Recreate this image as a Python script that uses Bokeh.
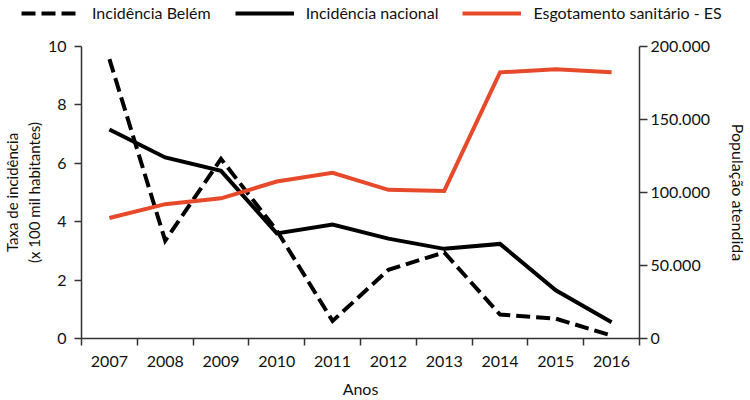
from bokeh.plotting import figure
from bokeh.layouts import column
from bokeh.models import Range1d, LinearAxis, FixedTicker, Legend, LegendItem
from bokeh.embed import file_html
from bokeh.resources import INLINE

years = [2007, 2008, 2009, 2010, 2011, 2012, 2013, 2014, 2015, 2016]
incidencia_belem = [9.57, 3.35, 6.15, 3.7, 0.6, 2.35, 2.95, 0.82, 0.68, 0.1]
incidencia_nacional = [7.16, 6.2, 5.74, 3.6, 3.9, 3.42, 3.07, 3.24, 1.65, 0.56]
esgotamento = [82500, 92000, 96000, 107500, 113500, 101800, 101100, 182300, 184400, 182300]

left_ticks = [0, 2, 4, 6, 8, 10]
right_ticks = [0, 50000, 100000, 150000, 200000]
right_tick_labels = ["0", "50.000", "100.000", "150.000", "200.000"]
year_labels = [str(y) for y in years]
series_names = ["Incidência Belém", "Incidência nacional", "Esgotamento sanitário - ES"]

FONT = "Lato"
AXIS_COLOR = "#333333"
RED = "#E64A2B"
DASH = "14 6"
LEG_H = 26

# ---------------- main chart ----------------
p = figure(width=750, height=400 - LEG_H, output_backend="svg", toolbar_location=None,
           x_range=Range1d(years[0] - 0.5, years[-1] + 0.5),
           y_range=Range1d(0, 10),
           min_border_left=80, min_border_right=109, min_border_top=46 - LEG_H,
           min_border_bottom=60)
p.frame_align = False
p.extra_y_ranges = {"pop": Range1d(0, 200000)}
p.outline_line_color = None
p.grid.visible = False
p.background_fill_color = "white"
p.border_fill_color = "white"

p.line(years, incidencia_belem, line_color="black", line_width=4,
       line_dash=DASH, line_join="miter")
p.line(years, incidencia_nacional, line_color="black", line_width=4, line_join="miter")
p.line(years, esgotamento, line_color=RED, line_width=4, line_join="miter",
       y_range_name="pop")

# x axis
xa = p.xaxis[0]
xa.ticker = FixedTicker(ticks=years, minor_ticks=[y - 0.5 for y in years] + [years[-1] + 0.5])
xa.major_label_overrides = {y: s for y, s in zip(years, year_labels)}
xa.major_tick_out = 0
xa.major_tick_in = 0
xa.minor_tick_out = 7
xa.minor_tick_in = 0
xa.major_label_standoff = 10
xa.axis_label = "Anos"
xa.axis_label_standoff = 9

# left axis
ya = p.yaxis[0]
ya.ticker = FixedTicker(ticks=left_ticks)
ya.major_tick_out = 7
ya.major_tick_in = 0
ya.minor_tick_out = 0
ya.minor_tick_in = 0
ya.major_label_standoff = 8
ya.axis_label = "Taxa de incidência\n(x 100 mil habitantes)"
ya.axis_label_standoff = 2

# right axis
ra = LinearAxis(y_range_name="pop", ticker=FixedTicker(ticks=right_ticks))
ra.major_label_overrides = {t: s for t, s in zip(right_ticks, right_tick_labels)}
ra.major_tick_out = 8
ra.major_tick_in = 0
ra.minor_tick_out = 0
ra.minor_tick_in = 0
ra.major_label_standoff = 3
ra.axis_label = "População atendida"
ra.axis_label_standoff = 16
p.add_layout(ra, "right")

for ax in [xa, ya, ra]:
    ax.axis_line_color = AXIS_COLOR
    ax.axis_line_width = 1.5
    ax.major_tick_line_color = AXIS_COLOR
    ax.major_tick_line_width = 1.5
    ax.minor_tick_line_color = AXIS_COLOR
    ax.minor_tick_line_width = 1.5
    ax.major_label_text_font = FONT
    ax.major_label_text_font_size = "16px"
    ax.major_label_text_color = "#111111"
    ax.axis_label_text_font = FONT
    ax.axis_label_text_font_size = "16px"
    ax.axis_label_text_font_style = "normal"
    ax.axis_label_text_color = "#111111"
ya.axis_label_text_font_size = "15px"

# ---------------- legend strip ----------------
lg = figure(width=750, height=LEG_H, output_backend="svg", toolbar_location=None,
            x_range=Range1d(0, 1), y_range=Range1d(0, 1),
            x_axis_location=None, y_axis_location=None,
            min_border_left=0, min_border_right=0, min_border_top=0, min_border_bottom=0)
lg.frame_align = False
lg.outline_line_color = None
lg.grid.visible = False
lg.background_fill_color = "white"
lg.border_fill_color = "white"

nan = float("nan")
d1 = lg.line([nan], [nan], line_color="black", line_width=4, line_dash=DASH)
d2 = lg.line([nan], [nan], line_color="black", line_width=4)
d3 = lg.line([nan], [nan], line_color=RED, line_width=4)

legend = Legend(items=[
    LegendItem(label=series_names[0], renderers=[d1]),
    LegendItem(label=series_names[1], renderers=[d2]),
    LegendItem(label=series_names[2], renderers=[d3]),
], orientation="horizontal", location=(21, 4))
legend.label_text_font = FONT
legend.label_text_font_size = "16px"
legend.label_text_color = "#111111"
legend.glyph_width = 59
legend.glyph_height = 18
legend.label_standoff = 12
legend.spacing = 24
legend.padding = 0
legend.margin = 0
legend.border_line_color = None
legend.background_fill_alpha = 0
lg.add_layout(legend, "center")

layout = column(lg, p, spacing=0)
open("out.html", "w").write(file_html(layout, INLINE))
